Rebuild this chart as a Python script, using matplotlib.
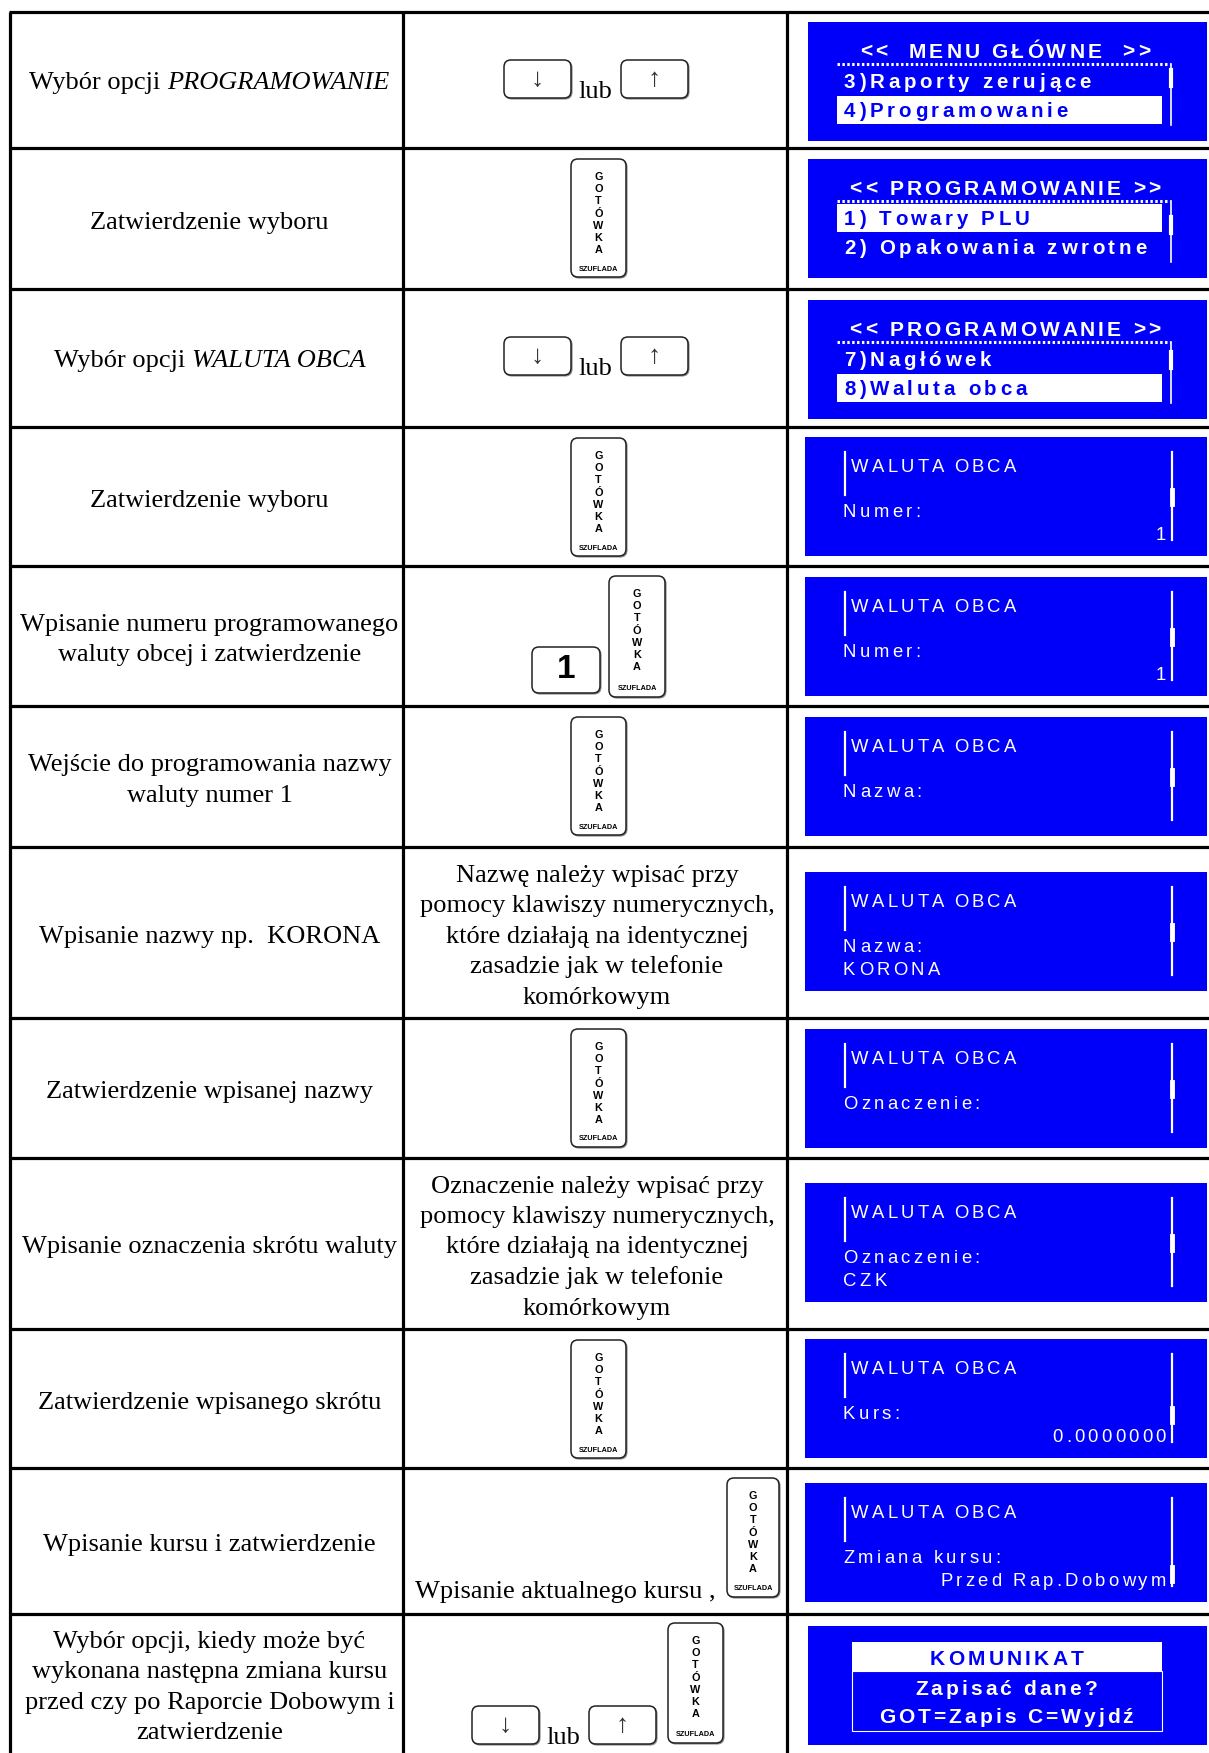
import matplotlib
matplotlib.use("Agg")
import matplotlib.pyplot as plt
from matplotlib.patches import FancyBboxPatch, Rectangle
from matplotlib.font_manager import FontProperties

# ---- table content ----
step_plain = ["Wybór opcji ", "Zatwierdzenie wyboru", "Wybór opcji ", "Zatwierdzenie wyboru",
              "Wpisanie numeru programowanego\nwaluty obcej i zatwierdzenie",
              "Wejście do programowania nazwy\nwaluty numer 1",
              "Wpisanie nazwy np.  KORONA", "Zatwierdzenie wpisanej nazwy",
              "Wpisanie oznaczenia skrótu waluty", "Zatwierdzenie wpisanego skrótu",
              "Wpisanie kursu i zatwierdzenie",
              "Wybór opcji, kiedy może być\nwykonana następna zmiana kursu\nprzed czy po Raporcie Dobowym i\nzatwierdzenie"]
step_italic = ["PROGRAMOWANIE", "", "WALUTA OBCA", "", "", "", "", "", "", "", "", ""]

# what is pressed in the middle column
key_action = ["arrows", "got", "arrows", "got", "one_got", "got", "hint", "got", "hint", "got",
              "rate_got", "arrows_got"]
hint_text = {6: "Nazwę należy wpisać przy\npomocy klawiszy numerycznych,\nktóre działają na identycznej\nzasadzie jak w telefonie\nkomórkowym",
             8: "Oznaczenie należy wpisać przy\npomocy klawiszy numerycznych,\nktóre działają na identycznej\nzasadzie jak w telefonie\nkomórkowym",
             10: "Wpisanie aktualnego kursu ,"}

# display screens
screen_kind = ["menu", "menu", "menu"] + ["form"] * 8 + ["msg"]
screen_title = ["<<  MENU GŁÓWNE  >>", "<< PROGRAMOWANIE >>", "<< PROGRAMOWANIE >>"] + ["WALUTA OBCA"] * 8 + ["KOMUNIKAT"]
screen_line1 = ["3)Raporty zerujące", "1) Towary PLU", "7)Nagłówek", "Numer:", "Numer:", "Nazwa:", "Nazwa:",
                "Oznaczenie:", "Oznaczenie:", "Kurs:", "Zmiana kursu:", "Zapisać dane?"]
screen_line2 = ["4)Programowanie", "2) Opakowania zwrotne", "8)Waluta obca", "1", "1", "", "KORONA", "",
                "CZK", "0.0000000", "Przed Rap.Dobowym", "GOT=Zapis C=Wyjdź"]
screen_selected = [2, 1, 2, 0, 0, 0, 0, 0, 0, 0, 0, 0]
line2_right = [False, False, False, True, True, False, False, False, False, True, True, False]

# ---- layout (pixels) ----
W, H = 1209, 1753
row_edges = [12, 148, 289, 427, 566, 706, 847, 1018, 1158, 1329, 1468, 1614, 1753]
col_edges = [10, 403, 787]
panel_top = [22, 159, 300, 437, 577, 717, 872, 1029, 1183, 1339, 1483, 1626]
panel_left = [808, 808, 808] + [805] * 8 + [808]
thumb_pos = [0, 0.25, 0.1, 0.5, 0.5, 0.5, 0.5, 0.5, 0.5, 0.68, 0.85, 0]
BLUE = "#0000FA"
PX = 0.72  # points per pixel at 100 dpi

fig = plt.figure(figsize=(W / 100, H / 100), dpi=100)
ax = fig.add_axes([0, 0, 1, 1])
ax.set_xlim(0, W)
ax.set_ylim(H, 0)
ax.axis("off")
rend = fig.canvas.get_renderer()


def tw(s, prop):
    bar = rend.get_text_width_height_descent("|", prop, ismath=False)[0]
    return rend.get_text_width_height_descent(s + "|", prop, ismath=False)[0] - bar


def lcd(x, yc, s, px, bold=False, color="white", track=3.6, ha="left"):
    prop = FontProperties(family="Liberation Sans", size=px * PX, weight="bold" if bold else "normal")
    total = tw(s, prop) + track * (len(s) - 1)
    x0 = x - total / 2 if ha == "center" else (x - total if ha == "right" else x)
    yb = yc + 0.36 * px
    for i, ch in enumerate(s):
        if ch == " ":
            continue
        ax.text(x0 + tw(s[:i], prop) + track * i, yb, ch, fontproperties=prop, color=color,
                ha="left", va="baseline")


SERIF = FontProperties(family="Liberation Serif", size=19)
SERIF_I = FontProperties(family="Liberation Serif", size=19, style="italic")
LINE = 30.5


def serif_block(xc, yc, text):
    lines = text.split("\n")
    y0 = yc - LINE * (len(lines) - 1) / 2
    for k, ln in enumerate(lines):
        ax.text(xc, y0 + k * LINE + 10, ln, fontproperties=SERIF, ha="center", va="baseline")


def key(x0, y0, w, h, r=7):
    ax.add_patch(FancyBboxPatch((x0 + 1, y0 + 1), w, h, boxstyle=f"round,pad=0,rounding_size={r}",
                                fc="#888888", ec="#888888", lw=0.8))
    ax.add_patch(FancyBboxPatch((x0, y0), w, h, boxstyle=f"round,pad=0,rounding_size={r}",
                                fc="white", ec="#222222", lw=1.1))


def arrow_key(x0, y0, ch):
    key(x0, y0, 67, 38)
    ax.text(x0 + 33.5, y0 + 20, ch, family="Liberation Serif", fontsize=19, color="#333333",
            ha="center", va="center")


def arrows(x0, y0):
    arrow_key(x0, y0, "↓")
    ax.text(x0 + 74, y0 + 38, "lub", fontproperties=SERIF, ha="left", va="baseline")
    arrow_key(x0 + 117, y0, "↑")


def got_key(x0, y0, w=55, h=118):
    key(x0, y0, w, h)
    for i, ch in enumerate("GOTÓWKA"):
        ax.text(x0 + w / 2, y0 + 18 + i * 12.2, ch, family="Liberation Sans", fontsize=7.8,
                fontweight="bold", ha="center", va="center")
    ax.text(x0 + w / 2, y0 + h - 8, "SZUFLADA", family="Liberation Sans", fontsize=5.2,
            fontweight="bold", ha="center", va="center")


# ---- grid ----
for y in row_edges[:-1]:
    ax.plot([col_edges[0] - 1.5, W], [y, y], color="black", lw=2.3, solid_capstyle="butt")
for x in col_edges:
    ax.plot([x, x], [row_edges[0], H], color="black", lw=2.3, solid_capstyle="butt")

# ---- first column ----
c1 = (col_edges[0] + col_edges[1]) / 2 + 3
for i in range(len(step_plain)):
    yc = (row_edges[i] + row_edges[i + 1]) / 2
    if step_italic[i]:
        w1 = tw(step_plain[i], SERIF)
        w2 = tw(step_italic[i], SERIF_I)
        x0 = c1 - (w1 + w2) / 2
        ax.text(x0, yc + 9, step_plain[i], fontproperties=SERIF, ha="left", va="baseline")
        ax.text(x0 + w1, yc + 9, step_italic[i], fontproperties=SERIF_I, ha="left", va="baseline")
    else:
        serif_block(c1, yc, step_plain[i])

# ---- second column ----
c2 = (col_edges[1] + col_edges[2]) / 2
for i, act in enumerate(key_action):
    top = row_edges[i]
    yc = (row_edges[i] + row_edges[i + 1]) / 2
    if act == "arrows":
        arrows(504, top + 48)
    elif act == "got":
        got_key(571, top + 11)
    elif act == "one_got":
        key(532, top + 81, 68, 46)
        ax.text(566, top + 104, "1", family="Liberation Sans", fontweight="bold", fontsize=24,
                ha="center", va="center")
        got_key(609, top + 10, 56, 121)
    elif act == "hint":
        serif_block(c2 + 2, yc, hint_text[i])
    elif act == "rate_got":
        ax.text(415, top + 130, hint_text[i], fontproperties=SERIF, ha="left", va="baseline")
        got_key(727, top + 10, 52, 119)
    elif act == "arrows_got":
        arrows(472, top + 92)
        got_key(668, top + 9, 55, 120)

# ---- third column: LCD screens ----
for i, kind in enumerate(screen_kind):
    top = panel_top[i]
    x0 = panel_left[i]
    ax.add_patch(Rectangle((x0, top), 1207 - x0, 119, fc=BLUE, ec="none"))
    if kind == "menu":
        lcd(1005, top + 28, screen_title[i], 21, bold=True, track=3.1, ha="center")
        ax.plot([837, 1170], [top + 42, top + 42], color="white", lw=2.2, ls=(0, (0.8, 0.8)))
        ax.plot([1171, 1171], [top + 42, top + 103], color="white", lw=1.2)
        ty = top + 48 + thumb_pos[i] * 40
        ax.plot([1171, 1171], [ty, ty + 16], color="white", lw=3)
        for k, (txt, yy) in enumerate([(screen_line1[i], top + 59), (screen_line2[i], top + 88)], start=1):
            col = "white"
            if screen_selected[i] == k:
                ax.add_patch(Rectangle((837, yy - 14), 325, 28, fc="white", ec="none"))
                col = BLUE
            lcd(844, yy, txt, 20.5, bold=True, color=col, track=3.7)
    elif kind == "form":
        ax.plot([845, 845], [top + 15, top + 58], color="white", lw=1.6)
        ax.plot([1172, 1172], [top + 15, top + 103], color="white", lw=1.6)
        ty = top + 15 + thumb_pos[i] * 88
        ax.plot([1172, 1172], [ty - 6, ty + 8], color="white", lw=3.5)
        lcd(851, top + 28, screen_title[i], 18.5, track=3.4)
        lcd(843, top + 73, screen_line1[i], 18.5, track=3.4)
        if screen_line2[i]:
            if line2_right[i]:
                lcd(1166, top + 96, screen_line2[i], 18.5, track=3.2, ha="right")
            else:
                lcd(843, top + 96, screen_line2[i], 18.5, track=3.4)
    else:
        ax.add_patch(Rectangle((852, top + 16), 310, 29, fc="white", ec="none"))
        ax.add_patch(Rectangle((852, top + 45), 310, 60, fc="none", ec="white", lw=0.8))
        lcd(1006, top + 31, screen_title[i], 21, bold=True, color=BLUE, track=3.2, ha="center")
        lcd(1006, top + 61, screen_line1[i], 21, bold=True, track=3.0, ha="center")
        lcd(1006, top + 89, screen_line2[i], 21, bold=True, track=3.0, ha="center")

fig.savefig("out.png", dpi=100, facecolor="white")
